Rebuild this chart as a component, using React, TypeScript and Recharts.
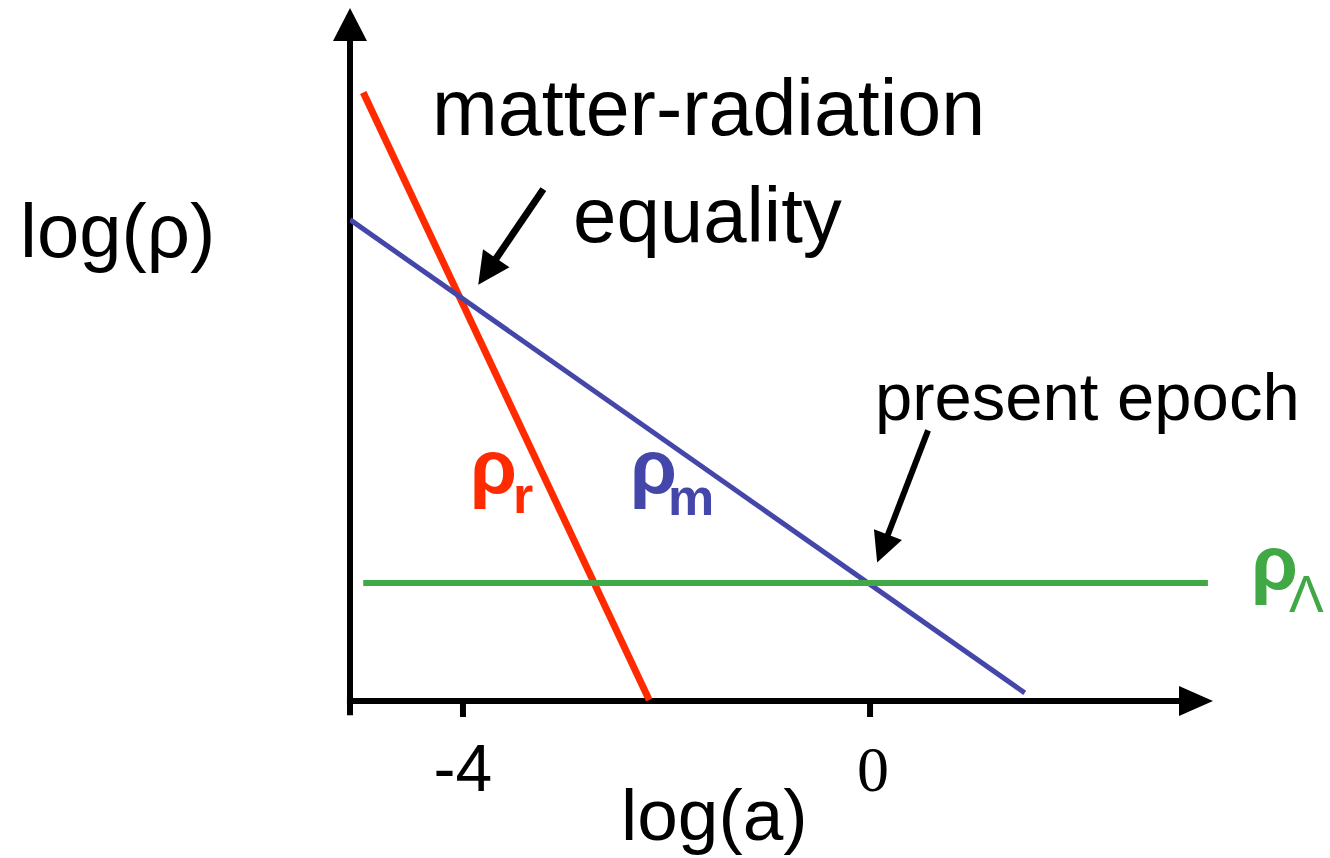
import { LineChart, Line, XAxis, YAxis, ReferenceLine } from 'recharts';

// log(a) / log(rho) end points
const logAR = [-4.98, -2.17];
const rhoR = [5.98, 0.01];
const logAM = [-5.11, 1.52];
const rhoM = [4.73, 0.08];
const logAL = [-4.98, 3.32];
const rhoL = [1.16, 1.16];
const xTicks = [-4, 0];

const zip = (xs: number[], ys: number[]) => xs.map((x, i) => ({ x, y: ys[i] }));
const radiation = zip(logAR, rhoR);
const matter = zip(logAM, rhoM);
const lambda = zip(logAL, rhoL);

const SANS = 'Liberation Sans, Arial, sans-serif';
const SERIF = 'Liberation Serif, Times New Roman, serif';
const RED = '#FF2A00';
const BLUE = '#4447A9';
const GREEN = '#41A846';

// line with a filled triangular head at (x2, y2)
const arrow = (width: number, head: number, half: number) => (props: any) => {
  const { x1, y1, x2, y2 } = props;
  const len = Math.hypot(x2 - x1, y2 - y1);
  const ux = (x2 - x1) / len;
  const uy = (y2 - y1) / len;
  const bx = x2 - ux * head;
  const by = y2 - uy * head;
  const pts = [
    [x2, y2],
    [bx - uy * half, by + ux * half],
    [bx + uy * half, by - ux * half],
  ]
    .map((p) => p.join(','))
    .join(' ');
  return (
    <g>
      <line x1={x1} y1={y1} x2={bx + ux * 2} y2={by + uy * 2} stroke="#000" strokeWidth={width} />
      <polygon points={pts} fill="#000" />
    </g>
  );
};

const Tick = ({ x, y, payload }: any) => (
  <text
    x={payload.value === 0 ? x + 3 : x}
    y={y + 72}
    textAnchor="middle"
    fontSize={payload.value === 0 ? 64 : 66}
    fontFamily={payload.value === 0 ? SERIF : SANS}
    fill="#000"
  >
    {payload.value}
  </text>
);

export default function App() {
  return (
    <div style={{ position: 'absolute', left: 0, top: 0, background: '#fff' }}>
      <LineChart width={1330} height={858} margin={{ top: 8, right: 117, bottom: 57, left: 350 }}>
        <XAxis
          type="number"
          dataKey="x"
          domain={[-5.11, 3.37]}
          ticks={xTicks}
          axisLine={false}
          tickLine={{ stroke: '#000', strokeWidth: 6 }}
          tickSize={16}
          tickMargin={2}
          height={100}
          tick={<Tick />}
          allowDataOverflow
        />
        <YAxis type="number" domain={[0, 6.81]} hide allowDataOverflow />

        <ReferenceLine
          segment={[{ x: -5.11, y: -0.14 }, { x: -5.11, y: 6.81 }]}
          ifOverflow="visible"
          shape={arrow(6, 33, 17)}
        />
        <ReferenceLine
          segment={[{ x: -5.14, y: 0 }, { x: 3.37, y: 0 }]}
          ifOverflow="visible"
          shape={arrow(6, 34, 15)}
        />

        <Line data={radiation} dataKey="y" stroke={RED} strokeWidth={7} dot={false} isAnimationActive={false} />
        <Line data={matter} dataKey="y" stroke={BLUE} strokeWidth={5} dot={false} isAnimationActive={false} />
        <Line data={lambda} dataKey="y" stroke={GREEN} strokeWidth={6} dot={false} isAnimationActive={false} />

        <ReferenceLine
          segment={[{ x: -3.21, y: 5.03 }, { x: -3.85, y: 4.09 }]}
          ifOverflow="visible"
          shape={arrow(7, 32, 16)}
        />
        <ReferenceLine
          segment={[{ x: 0.57, y: 2.66 }, { x: 0.07, y: 1.36 }]}
          ifOverflow="visible"
          shape={arrow(6, 30, 15)}
        />

        <g fontFamily={SANS} fill="#000">
          <text x={20} y={257} fontSize={76}>log(ρ)</text>
          <text x={432} y={135} fontSize={79}>matter-radiation</text>
          <text x={573} y={242} fontSize={78}>equality</text>
          <text x={875} y={420} fontSize={67}>present epoch</text>
          <text x={621} y={840} fontSize={73}>log(a)</text>
        </g>
        <g fontFamily={SANS} fontWeight="bold">
          <text x={470} y={493} fontSize={76} fill={RED}>
            ρ<tspan fontSize={52} dx={-4} dy={20}>r</tspan>
          </text>
          <text x={630} y={493} fontSize={76} fill={BLUE}>
            ρ<tspan fontSize={52} dx={-9} dy={22}>m</tspan>
          </text>
          <text x={1251} y={589} fontSize={76} fill={GREEN}>
            ρ<tspan fontSize={52} fontWeight="normal" dx={-9} dy={23}>Λ</tspan>
          </text>
        </g>
      </LineChart>
    </div>
  );
}
